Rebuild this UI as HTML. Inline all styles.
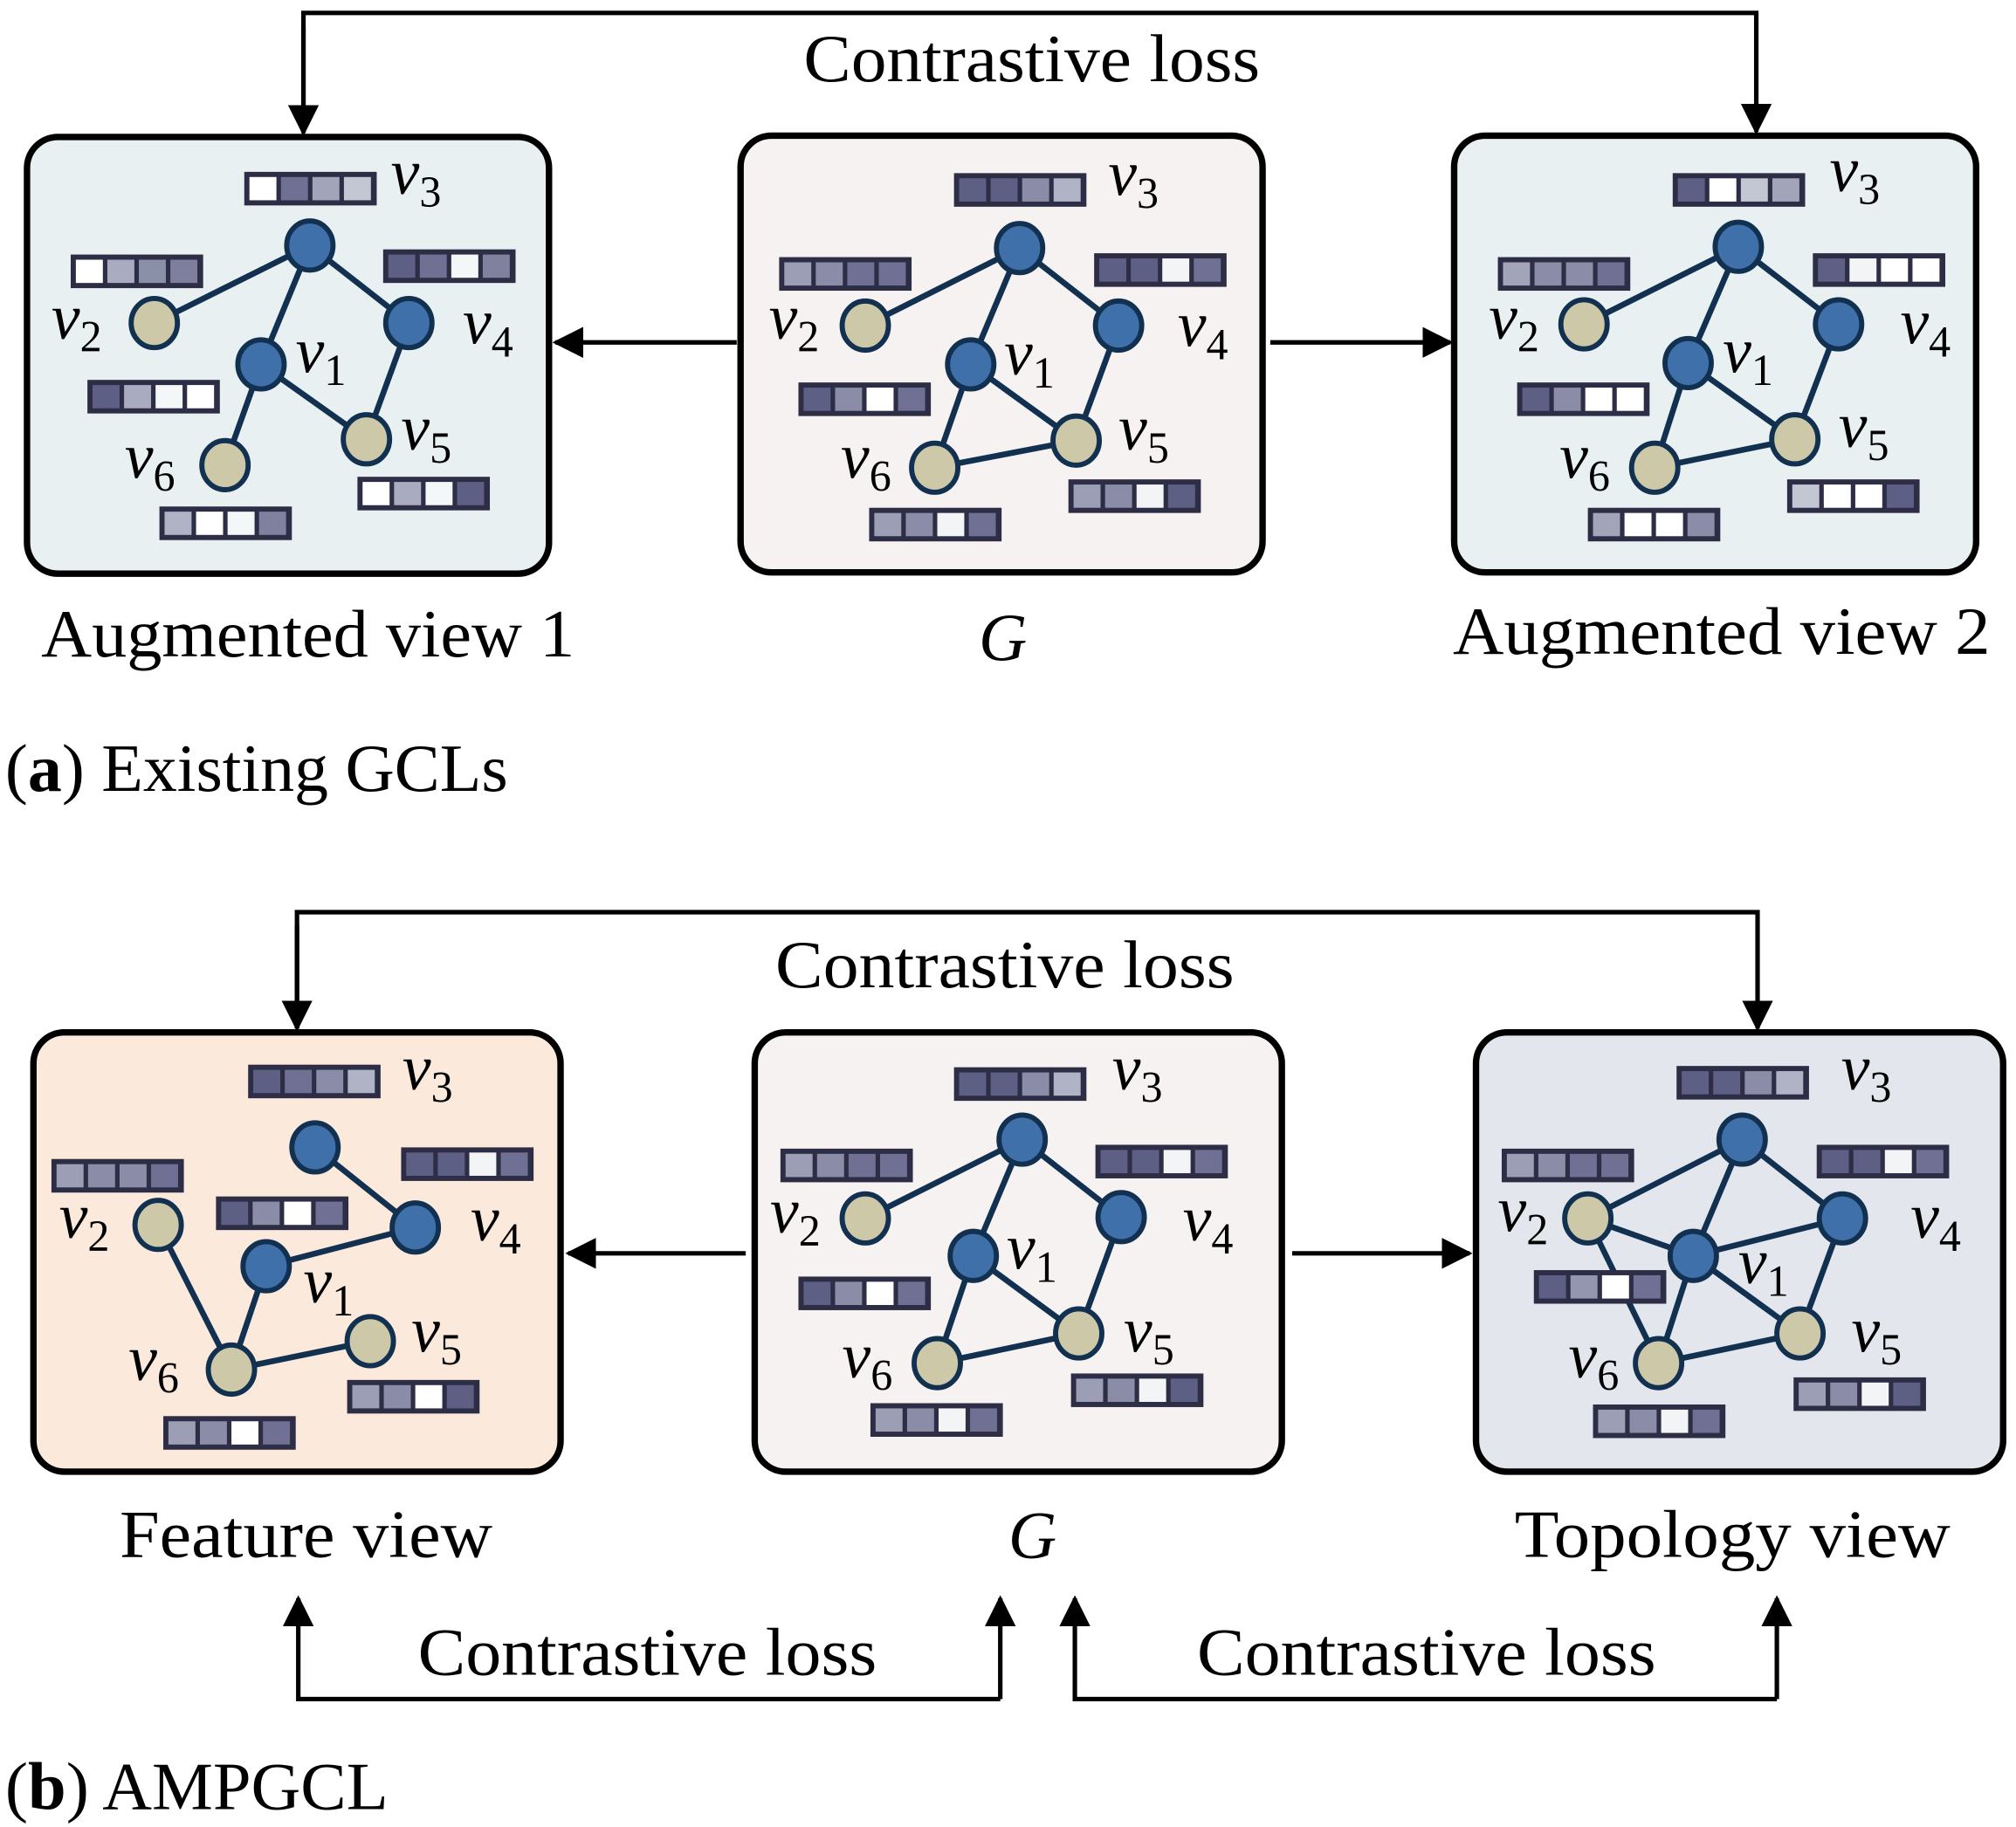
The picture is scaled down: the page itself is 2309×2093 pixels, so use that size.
<!DOCTYPE html>
<html><head><meta charset="utf-8"><style>html,body{margin:0;padding:0;background:#fff}svg{display:block}</style></head>
<body>
<svg width="2309" height="2093" viewBox="0 0 1568 1414" preserveAspectRatio="none" xmlns="http://www.w3.org/2000/svg" font-family="'Liberation Serif', serif">
<defs>
<marker id="ah2" viewBox="0 0 10 10" refX="9" refY="5" markerWidth="24" markerHeight="24" markerUnits="userSpaceOnUse" orient="auto"><path d="M0,0 L10,5 L0,10 z" fill="#000"/></marker>
<style>
.e{stroke:#12304f;stroke-width:4.5}
.b{fill:#4070aa;stroke:#12304f;stroke-width:4}
.t{fill:#cdc9a8;stroke:#12304f;stroke-width:4}
.lb{font-style:italic;font-size:50px}
.sb{font-style:normal;font-size:34px}
.cap{font-size:52px}
.ar{stroke:#000;stroke-width:3.5;fill:none}
</style>
</defs>

<!-- Top arrows -->
<polyline class="ar" points="236,103 236,10 1366,10 1366,102" marker-end="url(#ah2)"/>
<line class="ar" x1="236" y1="20" x2="236" y2="103" marker-end="url(#ah2)"/>
<text x="625" y="63" class="cap" textLength="355" lengthAdjust="spacingAndGlyphs">Contrastive loss</text>
<line class="ar" x1="573" y1="265" x2="432" y2="265" marker-end="url(#ah2)"/>
<line class="ar" x1="988" y1="265" x2="1128" y2="265" marker-end="url(#ah2)"/>

<!-- Panel A1 -->
<rect x="21" y="106" width="406" height="338" rx="24" fill="#e8f0f2" stroke="#000" stroke-width="5"/>
<g>
<line class="e" x1="241" y1="190" x2="120" y2="250"/><line class="e" x1="241" y1="190" x2="203" y2="282"/><line class="e" x1="241" y1="190" x2="318" y2="250"/><line class="e" x1="318" y1="250" x2="285" y2="340"/><line class="e" x1="203" y1="282" x2="285" y2="340"/><line class="e" x1="203" y1="282" x2="175" y2="360"/>
<ellipse class="b" cx="241" cy="190" rx="18" ry="19"/><ellipse class="t" cx="120" cy="250" rx="18" ry="19"/><ellipse class="b" cx="203" cy="282" rx="18" ry="19"/><ellipse class="b" cx="318" cy="250" rx="18" ry="19"/><ellipse class="t" cx="285" cy="340" rx="18" ry="19"/><ellipse class="t" cx="175" cy="360" rx="18" ry="19"/>
</g>
<g transform="translate(190,133)"><rect width="103" height="26" fill="#2d2d45"/><rect x="4" y="4" width="21" height="18" fill="#fff"/><rect x="28.5" y="4" width="21" height="18" fill="#6f7093"/><rect x="53" y="4" width="21" height="18" fill="#a2a4ba"/><rect x="77.5" y="4" width="21" height="18" fill="#c3c6d3"/></g>
<g transform="translate(55,197)"><rect width="103" height="26" fill="#2d2d45"/><rect x="4" y="4" width="21" height="18" fill="#fff"/><rect x="28.5" y="4" width="21" height="18" fill="#a9abc0"/><rect x="53" y="4" width="21" height="18" fill="#8a90a8"/><rect x="77.5" y="4" width="21" height="18" fill="#7d7f9c"/></g>
<g transform="translate(298,193)"><rect width="103" height="26" fill="#2d2d45"/><rect x="4" y="4" width="21" height="18" fill="#5e5f85"/><rect x="28.5" y="4" width="21" height="18" fill="#6f7093"/><rect x="53" y="4" width="21" height="18" fill="#f3f7f7"/><rect x="77.5" y="4" width="21" height="18" fill="#7f819f"/></g>
<g transform="translate(68,294)"><rect width="103" height="26" fill="#2d2d45"/><rect x="4" y="4" width="21" height="18" fill="#5e5f85"/><rect x="28.5" y="4" width="21" height="18" fill="#a9abc0"/><rect x="53" y="4" width="21" height="18" fill="#f3f7f7"/><rect x="77.5" y="4" width="21" height="18" fill="#fff"/></g>
<g transform="translate(278,369)"><rect width="103" height="26" fill="#2d2d45"/><rect x="4" y="4" width="21" height="18" fill="#fff"/><rect x="28.5" y="4" width="21" height="18" fill="#a9abc0"/><rect x="53" y="4" width="21" height="18" fill="#f3f7f7"/><rect x="77.5" y="4" width="21" height="18" fill="#5e5f85"/></g>
<g transform="translate(124,392)"><rect width="103" height="26" fill="#2d2d45"/><rect x="4" y="4" width="21" height="18" fill="#b0b3c6"/><rect x="28.5" y="4" width="21" height="18" fill="#fff"/><rect x="53" y="4" width="21" height="18" fill="#f3f7f7"/><rect x="77.5" y="4" width="21" height="18" fill="#7f819f"/></g>
<text x="304" y="150" class="lb">v<tspan class="sb" dy="10">3</tspan></text>
<text x="40" y="262" class="lb">v<tspan class="sb" dy="10">2</tspan></text>
<text x="230" y="288" class="lb">v<tspan class="sb" dy="10">1</tspan></text>
<text x="360" y="266" class="lb">v<tspan class="sb" dy="10">4</tspan></text>
<text x="312" y="348" class="lb">v<tspan class="sb" dy="10">5</tspan></text>
<text x="97" y="370" class="lb">v<tspan class="sb" dy="10">6</tspan></text>

<!-- Panel G top -->
<rect x="576" y="105" width="406" height="338" rx="24" fill="#f7f2f2" stroke="#000" stroke-width="5"/>
<g>
<line class="e" x1="793" y1="192" x2="673" y2="252"/><line class="e" x1="793" y1="192" x2="755" y2="282"/><line class="e" x1="793" y1="192" x2="870" y2="252"/><line class="e" x1="870" y1="252" x2="837" y2="341"/><line class="e" x1="755" y1="282" x2="837" y2="341"/><line class="e" x1="755" y1="282" x2="727" y2="362"/><line class="e" x1="727" y1="362" x2="837" y2="341"/>
<ellipse class="b" cx="793" cy="192" rx="18" ry="19"/><ellipse class="t" cx="673" cy="252" rx="18" ry="19"/><ellipse class="b" cx="755" cy="282" rx="18" ry="19"/><ellipse class="b" cx="870" cy="252" rx="18" ry="19"/><ellipse class="t" cx="837" cy="341" rx="18" ry="19"/><ellipse class="t" cx="727" cy="362" rx="18" ry="19"/>
</g>
<g transform="translate(742,134)"><rect width="103" height="26" fill="#2d2d45"/><rect x="4" y="4" width="21" height="18" fill="#5e5f85"/><rect x="28.5" y="4" width="21" height="18" fill="#5e5f85"/><rect x="53" y="4" width="21" height="18" fill="#8a8ca8"/><rect x="77.5" y="4" width="21" height="18" fill="#b0b3c6"/></g>
<g transform="translate(606,199)"><rect width="103" height="26" fill="#2d2d45"/><rect x="4" y="4" width="21" height="18" fill="#9c9eb6"/><rect x="28.5" y="4" width="21" height="18" fill="#8a8ca8"/><rect x="53" y="4" width="21" height="18" fill="#6f7093"/><rect x="77.5" y="4" width="21" height="18" fill="#6f7093"/></g>
<g transform="translate(851,196)"><rect width="103" height="26" fill="#2d2d45"/><rect x="4" y="4" width="21" height="18" fill="#5e5f85"/><rect x="28.5" y="4" width="21" height="18" fill="#5e5f85"/><rect x="53" y="4" width="21" height="18" fill="#f3f4f6"/><rect x="77.5" y="4" width="21" height="18" fill="#6f7093"/></g>
<g transform="translate(621,296)"><rect width="103" height="26" fill="#2d2d45"/><rect x="4" y="4" width="21" height="18" fill="#5e5f85"/><rect x="28.5" y="4" width="21" height="18" fill="#8a8ca8"/><rect x="53" y="4" width="21" height="18" fill="#fff"/><rect x="77.5" y="4" width="21" height="18" fill="#6f7093"/></g>
<g transform="translate(831,371)"><rect width="103" height="26" fill="#2d2d45"/><rect x="4" y="4" width="21" height="18" fill="#9c9eb6"/><rect x="28.5" y="4" width="21" height="18" fill="#8a8ca8"/><rect x="53" y="4" width="21" height="18" fill="#f3f4f6"/><rect x="77.5" y="4" width="21" height="18" fill="#5e5f85"/></g>
<g transform="translate(676,393)"><rect width="103" height="26" fill="#2d2d45"/><rect x="4" y="4" width="21" height="18" fill="#9c9eb6"/><rect x="28.5" y="4" width="21" height="18" fill="#8a8ca8"/><rect x="53" y="4" width="21" height="18" fill="#f3f4f6"/><rect x="77.5" y="4" width="21" height="18" fill="#6f7093"/></g>
<text x="862" y="151" class="lb">v<tspan class="sb" dy="10">3</tspan></text>
<text x="598" y="262" class="lb">v<tspan class="sb" dy="10">2</tspan></text>
<text x="781" y="290" class="lb">v<tspan class="sb" dy="10">1</tspan></text>
<text x="916" y="268" class="lb">v<tspan class="sb" dy="10">4</tspan></text>
<text x="870" y="348" class="lb">v<tspan class="sb" dy="10">5</tspan></text>
<text x="654" y="370" class="lb">v<tspan class="sb" dy="10">6</tspan></text>

<!-- Panel A2 -->
<rect x="1131" y="105" width="406" height="338" rx="24" fill="#e8f0f2" stroke="#000" stroke-width="5"/>
<g>
<line class="e" x1="1352" y1="191" x2="1232" y2="251"/><line class="e" x1="1352" y1="191" x2="1313" y2="281"/><line class="e" x1="1352" y1="191" x2="1430" y2="251"/><line class="e" x1="1430" y1="251" x2="1396" y2="340"/><line class="e" x1="1313" y1="281" x2="1396" y2="340"/><line class="e" x1="1313" y1="281" x2="1287" y2="362"/><line class="e" x1="1287" y1="362" x2="1396" y2="340"/>
<ellipse class="b" cx="1352" cy="191" rx="18" ry="19"/><ellipse class="t" cx="1232" cy="251" rx="18" ry="19"/><ellipse class="b" cx="1313" cy="281" rx="18" ry="19"/><ellipse class="b" cx="1430" cy="251" rx="18" ry="19"/><ellipse class="t" cx="1396" cy="340" rx="18" ry="19"/><ellipse class="t" cx="1287" cy="362" rx="18" ry="19"/>
</g>
<g transform="translate(1301,134)"><rect width="103" height="26" fill="#2d2d45"/><rect x="4" y="4" width="21" height="18" fill="#5e5f85"/><rect x="28.5" y="4" width="21" height="18" fill="#fff"/><rect x="53" y="4" width="21" height="18" fill="#c3c6d3"/><rect x="77.5" y="4" width="21" height="18" fill="#a2a4ba"/></g>
<g transform="translate(1165,199)"><rect width="103" height="26" fill="#2d2d45"/><rect x="4" y="4" width="21" height="18" fill="#a2a4ba"/><rect x="28.5" y="4" width="21" height="18" fill="#8a8ca8"/><rect x="53" y="4" width="21" height="18" fill="#8a8ca8"/><rect x="77.5" y="4" width="21" height="18" fill="#6f7093"/></g>
<g transform="translate(1410,196)"><rect width="103" height="26" fill="#2d2d45"/><rect x="4" y="4" width="21" height="18" fill="#5e5f85"/><rect x="28.5" y="4" width="21" height="18" fill="#f3f4f6"/><rect x="53" y="4" width="21" height="18" fill="#fff"/><rect x="77.5" y="4" width="21" height="18" fill="#fff"/></g>
<g transform="translate(1180,296)"><rect width="103" height="26" fill="#2d2d45"/><rect x="4" y="4" width="21" height="18" fill="#5e5f85"/><rect x="28.5" y="4" width="21" height="18" fill="#8a8ca8"/><rect x="53" y="4" width="21" height="18" fill="#fff"/><rect x="77.5" y="4" width="21" height="18" fill="#fff"/></g>
<g transform="translate(1390,371)"><rect width="103" height="26" fill="#2d2d45"/><rect x="4" y="4" width="21" height="18" fill="#c3c6d3"/><rect x="28.5" y="4" width="21" height="18" fill="#fff"/><rect x="53" y="4" width="21" height="18" fill="#fff"/><rect x="77.5" y="4" width="21" height="18" fill="#5e5f85"/></g>
<g transform="translate(1235,393)"><rect width="103" height="26" fill="#2d2d45"/><rect x="4" y="4" width="21" height="18" fill="#a2a4ba"/><rect x="28.5" y="4" width="21" height="18" fill="#fff"/><rect x="53" y="4" width="21" height="18" fill="#fff"/><rect x="77.5" y="4" width="21" height="18" fill="#8a8ca8"/></g>
<text x="1423" y="148" class="lb">v<tspan class="sb" dy="10">3</tspan></text>
<text x="1158" y="262" class="lb">v<tspan class="sb" dy="10">2</tspan></text>
<text x="1340" y="288" class="lb">v<tspan class="sb" dy="10">1</tspan></text>
<text x="1478" y="266" class="lb">v<tspan class="sb" dy="10">4</tspan></text>
<text x="1430" y="346" class="lb">v<tspan class="sb" dy="10">5</tspan></text>
<text x="1213" y="370" class="lb">v<tspan class="sb" dy="10">6</tspan></text>

<text x="32" y="508" class="cap" textLength="415" lengthAdjust="spacingAndGlyphs">Augmented view 1</text>
<text x="780" y="511" text-anchor="middle" class="cap" font-style="italic">G</text>
<text x="1130" y="506" class="cap" textLength="418" lengthAdjust="spacingAndGlyphs">Augmented view 2</text>
<text x="4" y="612" class="cap" textLength="391" lengthAdjust="spacingAndGlyphs">(<tspan font-weight="bold">a</tspan>) Existing GCLs</text>

<!-- Bottom arrows -->
<polyline class="ar" points="231,796 231,706 1367,706 1367,796" marker-end="url(#ah2)"/>
<line class="ar" x1="231" y1="716" x2="231" y2="796" marker-end="url(#ah2)"/>
<text x="603" y="764" class="cap" textLength="357" lengthAdjust="spacingAndGlyphs">Contrastive loss</text>
<line class="ar" x1="580" y1="970" x2="442" y2="970" marker-end="url(#ah2)"/>
<line class="ar" x1="1005" y1="970" x2="1143" y2="970" marker-end="url(#ah2)"/>

<!-- Feature view -->
<rect x="26" y="799" width="410" height="340" rx="24" fill="#fbe9dc" stroke="#000" stroke-width="5"/>
<g>
<line class="e" x1="245" y1="888" x2="323" y2="950"/><line class="e" x1="207" y1="980" x2="323" y2="950"/><line class="e" x1="207" y1="980" x2="180" y2="1060"/><line class="e" x1="123" y1="948" x2="180" y2="1060"/><line class="e" x1="180" y1="1060" x2="288" y2="1038"/>
<ellipse class="b" cx="245" cy="888" rx="18" ry="19"/><ellipse class="t" cx="123" cy="948" rx="18" ry="19"/><ellipse class="b" cx="207" cy="980" rx="18" ry="19"/><ellipse class="b" cx="323" cy="950" rx="18" ry="19"/><ellipse class="t" cx="288" cy="1038" rx="18" ry="19"/><ellipse class="t" cx="180" cy="1060" rx="18" ry="19"/>
</g>
<g transform="translate(193,824)"><rect width="103" height="26" fill="#2d2d45"/><rect x="4" y="4" width="21" height="18" fill="#5e5f85"/><rect x="28.5" y="4" width="21" height="18" fill="#6f7093"/><rect x="53" y="4" width="21" height="18" fill="#8a8ca8"/><rect x="77.5" y="4" width="21" height="18" fill="#b0b3c6"/></g>
<g transform="translate(40,897)"><rect width="103" height="26" fill="#2d2d45"/><rect x="4" y="4" width="21" height="18" fill="#9c9eb6"/><rect x="28.5" y="4" width="21" height="18" fill="#8a8ca8"/><rect x="53" y="4" width="21" height="18" fill="#8a8ca8"/><rect x="77.5" y="4" width="21" height="18" fill="#6f7093"/></g>
<g transform="translate(312,888)"><rect width="103" height="26" fill="#2d2d45"/><rect x="4" y="4" width="21" height="18" fill="#5e5f85"/><rect x="28.5" y="4" width="21" height="18" fill="#5e5f85"/><rect x="53" y="4" width="21" height="18" fill="#f3f4f6"/><rect x="77.5" y="4" width="21" height="18" fill="#6f7093"/></g>
<g transform="translate(168,926)"><rect width="103" height="26" fill="#2d2d45"/><rect x="4" y="4" width="21" height="18" fill="#5e5f85"/><rect x="28.5" y="4" width="21" height="18" fill="#8a8ca8"/><rect x="53" y="4" width="21" height="18" fill="#fff"/><rect x="77.5" y="4" width="21" height="18" fill="#6f7093"/></g>
<g transform="translate(270,1068)"><rect width="103" height="26" fill="#2d2d45"/><rect x="4" y="4" width="21" height="18" fill="#9c9eb6"/><rect x="28.5" y="4" width="21" height="18" fill="#8a8ca8"/><rect x="53" y="4" width="21" height="18" fill="#fff"/><rect x="77.5" y="4" width="21" height="18" fill="#5e5f85"/></g>
<g transform="translate(127,1096)"><rect width="103" height="26" fill="#2d2d45"/><rect x="4" y="4" width="21" height="18" fill="#9c9eb6"/><rect x="28.5" y="4" width="21" height="18" fill="#8a8ca8"/><rect x="53" y="4" width="21" height="18" fill="#fff"/><rect x="77.5" y="4" width="21" height="18" fill="#6f7093"/></g>
<text x="313" y="843" class="lb">v<tspan class="sb" dy="10">3</tspan></text>
<text x="46" y="958" class="lb">v<tspan class="sb" dy="10">2</tspan></text>
<text x="236" y="1008" class="lb">v<tspan class="sb" dy="10">1</tspan></text>
<text x="366" y="960" class="lb">v<tspan class="sb" dy="10">4</tspan></text>
<text x="320" y="1046" class="lb">v<tspan class="sb" dy="10">5</tspan></text>
<text x="100" y="1068" class="lb">v<tspan class="sb" dy="10">6</tspan></text>

<!-- G bottom -->
<rect x="587" y="799" width="410" height="340" rx="24" fill="#f7f2f2" stroke="#000" stroke-width="5"/>
<g>
<line class="e" x1="795" y1="882" x2="673" y2="943"/><line class="e" x1="795" y1="882" x2="757" y2="972"/><line class="e" x1="795" y1="882" x2="872" y2="942"/><line class="e" x1="872" y1="942" x2="839" y2="1032"/><line class="e" x1="757" y1="972" x2="839" y2="1032"/><line class="e" x1="757" y1="972" x2="729" y2="1055"/><line class="e" x1="729" y1="1055" x2="839" y2="1032"/>
<ellipse class="b" cx="795" cy="882" rx="18" ry="19"/><ellipse class="t" cx="673" cy="943" rx="18" ry="19"/><ellipse class="b" cx="757" cy="972" rx="18" ry="19"/><ellipse class="b" cx="872" cy="942" rx="18" ry="19"/><ellipse class="t" cx="839" cy="1032" rx="18" ry="19"/><ellipse class="t" cx="729" cy="1055" rx="18" ry="19"/>
</g>
<g transform="translate(742,826)"><rect width="103" height="26" fill="#2d2d45"/><rect x="4" y="4" width="21" height="18" fill="#5e5f85"/><rect x="28.5" y="4" width="21" height="18" fill="#5e5f85"/><rect x="53" y="4" width="21" height="18" fill="#8a8ca8"/><rect x="77.5" y="4" width="21" height="18" fill="#b0b3c6"/></g>
<g transform="translate(607,889)"><rect width="103" height="26" fill="#2d2d45"/><rect x="4" y="4" width="21" height="18" fill="#9c9eb6"/><rect x="28.5" y="4" width="21" height="18" fill="#8a8ca8"/><rect x="53" y="4" width="21" height="18" fill="#6f7093"/><rect x="77.5" y="4" width="21" height="18" fill="#6f7093"/></g>
<g transform="translate(852,886)"><rect width="103" height="26" fill="#2d2d45"/><rect x="4" y="4" width="21" height="18" fill="#5e5f85"/><rect x="28.5" y="4" width="21" height="18" fill="#5e5f85"/><rect x="53" y="4" width="21" height="18" fill="#f3f4f6"/><rect x="77.5" y="4" width="21" height="18" fill="#6f7093"/></g>
<g transform="translate(621,988)"><rect width="103" height="26" fill="#2d2d45"/><rect x="4" y="4" width="21" height="18" fill="#5e5f85"/><rect x="28.5" y="4" width="21" height="18" fill="#8a8ca8"/><rect x="53" y="4" width="21" height="18" fill="#fff"/><rect x="77.5" y="4" width="21" height="18" fill="#6f7093"/></g>
<g transform="translate(833,1063)"><rect width="103" height="26" fill="#2d2d45"/><rect x="4" y="4" width="21" height="18" fill="#9c9eb6"/><rect x="28.5" y="4" width="21" height="18" fill="#8a8ca8"/><rect x="53" y="4" width="21" height="18" fill="#f3f4f6"/><rect x="77.5" y="4" width="21" height="18" fill="#5e5f85"/></g>
<g transform="translate(677,1086)"><rect width="103" height="26" fill="#2d2d45"/><rect x="4" y="4" width="21" height="18" fill="#9c9eb6"/><rect x="28.5" y="4" width="21" height="18" fill="#8a8ca8"/><rect x="53" y="4" width="21" height="18" fill="#f3f4f6"/><rect x="77.5" y="4" width="21" height="18" fill="#6f7093"/></g>
<text x="865" y="843" class="lb">v<tspan class="sb" dy="10">3</tspan></text>
<text x="599" y="954" class="lb">v<tspan class="sb" dy="10">2</tspan></text>
<text x="783" y="982" class="lb">v<tspan class="sb" dy="10">1</tspan></text>
<text x="920" y="960" class="lb">v<tspan class="sb" dy="10">4</tspan></text>
<text x="874" y="1046" class="lb">v<tspan class="sb" dy="10">5</tspan></text>
<text x="655" y="1066" class="lb">v<tspan class="sb" dy="10">6</tspan></text>

<!-- Topology view -->
<rect x="1148" y="799" width="410" height="340" rx="24" fill="#e4e6ee" stroke="#000" stroke-width="5"/>
<g>
<line class="e" x1="1355" y1="882" x2="1235" y2="943"/><line class="e" x1="1355" y1="882" x2="1317" y2="972"/><line class="e" x1="1355" y1="882" x2="1433" y2="943"/><line class="e" x1="1235" y1="943" x2="1317" y2="972"/><line class="e" x1="1235" y1="943" x2="1290" y2="1055"/><line class="e" x1="1317" y1="972" x2="1433" y2="943"/><line class="e" x1="1317" y1="972" x2="1400" y2="1032"/><line class="e" x1="1317" y1="972" x2="1290" y2="1055"/><line class="e" x1="1433" y1="943" x2="1400" y2="1032"/><line class="e" x1="1290" y1="1055" x2="1400" y2="1032"/>
</g>
<g transform="translate(1193,983)"><rect width="103" height="26" fill="#2d2d45"/><rect x="4" y="4" width="21" height="18" fill="#5e5f85"/><rect x="28.5" y="4" width="21" height="18" fill="#9496b0"/><rect x="53" y="4" width="21" height="18" fill="#fff"/><rect x="77.5" y="4" width="21" height="18" fill="#6f7093"/></g>
<g>
<ellipse class="b" cx="1355" cy="882" rx="18" ry="19"/><ellipse class="t" cx="1235" cy="943" rx="18" ry="19"/><ellipse class="b" cx="1317" cy="972" rx="18" ry="19"/><ellipse class="b" cx="1433" cy="943" rx="18" ry="19"/><ellipse class="t" cx="1400" cy="1032" rx="18" ry="19"/><ellipse class="t" cx="1290" cy="1055" rx="18" ry="19"/>
</g>
<g transform="translate(1304,825)"><rect width="103" height="26" fill="#2d2d45"/><rect x="4" y="4" width="21" height="18" fill="#5e5f85"/><rect x="28.5" y="4" width="21" height="18" fill="#5e5f85"/><rect x="53" y="4" width="21" height="18" fill="#8a8ca8"/><rect x="77.5" y="4" width="21" height="18" fill="#b0b3c6"/></g>
<g transform="translate(1168,889)"><rect width="103" height="26" fill="#2d2d45"/><rect x="4" y="4" width="21" height="18" fill="#9c9eb6"/><rect x="28.5" y="4" width="21" height="18" fill="#8a8ca8"/><rect x="53" y="4" width="21" height="18" fill="#6f7093"/><rect x="77.5" y="4" width="21" height="18" fill="#6f7093"/></g>
<g transform="translate(1413,886)"><rect width="103" height="26" fill="#2d2d45"/><rect x="4" y="4" width="21" height="18" fill="#5e5f85"/><rect x="28.5" y="4" width="21" height="18" fill="#5e5f85"/><rect x="53" y="4" width="21" height="18" fill="#f3f4f6"/><rect x="77.5" y="4" width="21" height="18" fill="#6f7093"/></g>
<g transform="translate(1395,1066)"><rect width="103" height="26" fill="#2d2d45"/><rect x="4" y="4" width="21" height="18" fill="#9c9eb6"/><rect x="28.5" y="4" width="21" height="18" fill="#8a8ca8"/><rect x="53" y="4" width="21" height="18" fill="#f3f4f6"/><rect x="77.5" y="4" width="21" height="18" fill="#5e5f85"/></g>
<g transform="translate(1239,1087)"><rect width="103" height="26" fill="#2d2d45"/><rect x="4" y="4" width="21" height="18" fill="#9c9eb6"/><rect x="28.5" y="4" width="21" height="18" fill="#8a8ca8"/><rect x="53" y="4" width="21" height="18" fill="#f3f4f6"/><rect x="77.5" y="4" width="21" height="18" fill="#6f7093"/></g>
<text x="1432" y="843" class="lb">v<tspan class="sb" dy="10">3</tspan></text>
<text x="1165" y="953" class="lb">v<tspan class="sb" dy="10">2</tspan></text>
<text x="1352" y="993" class="lb">v<tspan class="sb" dy="10">1</tspan></text>
<text x="1486" y="958" class="lb">v<tspan class="sb" dy="10">4</tspan></text>
<text x="1440" y="1046" class="lb">v<tspan class="sb" dy="10">5</tspan></text>
<text x="1220" y="1066" class="lb">v<tspan class="sb" dy="10">6</tspan></text>

<text x="93" y="1205" class="cap" textLength="290" lengthAdjust="spacingAndGlyphs">Feature view</text>
<text x="803" y="1206" text-anchor="middle" class="cap" font-style="italic">G</text>
<text x="1178" y="1205" class="cap" textLength="339" lengthAdjust="spacingAndGlyphs">Topology view</text>

<!-- bottom arrows -->
<polyline class="ar" points="778,1315 232,1315 232,1237" marker-end="url(#ah2)"/>
<line class="ar" x1="778" y1="1315" x2="778" y2="1237" marker-end="url(#ah2)"/>
<text x="325" y="1296" class="cap" textLength="357" lengthAdjust="spacingAndGlyphs">Contrastive loss</text>
<polyline class="ar" points="1382,1315 836,1315 836,1237" marker-end="url(#ah2)"/>
<line class="ar" x1="1382" y1="1315" x2="1382" y2="1237" marker-end="url(#ah2)"/>
<text x="931" y="1296" class="cap" textLength="357" lengthAdjust="spacingAndGlyphs">Contrastive loss</text>

<text x="4" y="1400" class="cap" textLength="298" lengthAdjust="spacingAndGlyphs">(<tspan font-weight="bold">b</tspan>) AMPGCL</text>
</svg>
</body></html>
